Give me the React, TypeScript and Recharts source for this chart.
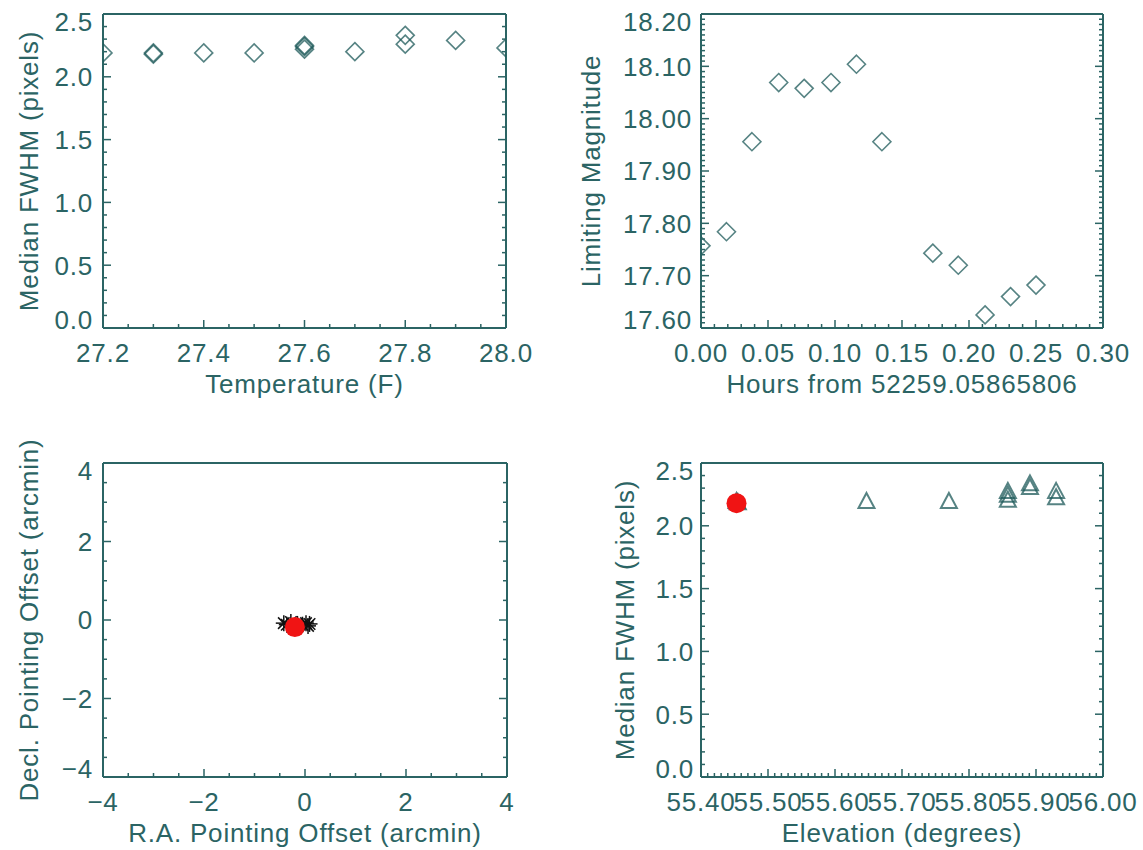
import { ScatterChart, Scatter, XAxis, YAxis } from 'recharts';

const INK = '#2b6464';
const MARK = '#1d5a5a';
const FONT = '"Liberation Sans", Arial, sans-serif';

// panel 1: median FWHM vs temperature
const tempF = [27.2, 27.3, 27.3, 27.4, 27.5, 27.6, 27.6, 27.6, 27.7, 27.8, 27.8, 27.9, 28.0];
const fwhmByTemp = [2.19, 2.18, 2.19, 2.19, 2.19, 2.22, 2.24, 2.25, 2.2, 2.33, 2.26, 2.29, 2.23];
const tempMajor = [27.2, 27.4, 27.6, 27.8, 28.0];
const fwhmMajor = [0, 0.5, 1.0, 1.5, 2.0, 2.5];

// panel 2: limiting magnitude vs time
const hoursFrom = [0.0, 0.019, 0.038, 0.058, 0.077, 0.097, 0.116, 0.135, 0.173, 0.192, 0.212, 0.231, 0.25];
const limitingMag = [17.757, 17.784, 17.956, 18.069, 18.058, 18.069, 18.104, 17.956, 17.743, 17.72, 17.625, 17.66, 17.682];
const hoursMajor = [0, 0.05, 0.1, 0.15, 0.2, 0.25, 0.3];
const magMajor = [17.6, 17.7, 17.8, 17.9, 18.0, 18.1, 18.2];

// panel 3: pointing offsets
const raOffset = [-0.42, -0.36, -0.28, -0.15, -0.05, 0.02, 0.09, 0.06];
const decOffset = [-0.08, -0.12, -0.05, -0.1, -0.12, -0.08, -0.1, -0.15];
const raMean = [-0.2];
const decMean = [-0.18];
const offsetMajor = [-4, -2, 0, 2, 4];

// panel 4: median FWHM vs elevation
const elevation = [55.453, 55.455, 55.647, 55.77, 55.858, 55.858, 55.858, 55.891, 55.891, 55.93, 55.93];
const fwhmByElev = [2.19, 2.18, 2.19, 2.19, 2.2, 2.24, 2.27, 2.3, 2.33, 2.22, 2.27];
const elevRed = [55.453];
const fwhmRed = [2.18];
const elevMajor = [55.4, 55.5, 55.6, 55.7, 55.8, 55.9, 56.0];

const withMinor = (majors: number[], n: number) => {
  const out: number[] = [];
  for (let i = 0; i < majors.length - 1; i++) {
    const step = (majors[i + 1] - majors[i]) / n;
    for (let k = 0; k < n; k++) out.push(+(majors[i] + k * step).toFixed(6));
  }
  out.push(majors[majors.length - 1]);
  return out;
};

const pairs = (xs: number[], ys: number[]) => xs.map((x, i) => ({ x, y: ys[i] }));

const fmt = (v: number, d: number) => v.toFixed(d).replace('-', '\u2212');

type Side = 'bottom' | 'top' | 'left' | 'right';

const makeTick = (side: Side, majors: number[], digits: number, gap = 10) => (props: any) => {
  const { x, y, payload } = props;
  const v = payload.value;
  const major = majors.some((m) => Math.abs(m - v) < 1e-6);
  const len = major ? 8 : 4;
  const lo = majors[0];
  const hi = majors[majors.length - 1];
  if (side === 'bottom') {
    return (
      <g>
        <line x1={x} y1={y} x2={x} y2={y - len} stroke={INK} strokeWidth={1.5} />
        {major && (
          <text x={x} y={y + 34} textAnchor="middle" fill={INK} fontSize={26}>
            {fmt(v, digits)}
          </text>
        )}
      </g>
    );
  }
  if (side === 'top') {
    return <line x1={x} y1={y} x2={x} y2={y + len} stroke={INK} strokeWidth={1.5} />;
  }
  if (side === 'right') {
    return <line x1={x} y1={y} x2={x - len} y2={y} stroke={INK} strokeWidth={1.5} />;
  }
  let ty = y;
  if (Math.abs(v - hi) < 1e-6) ty = y + 8;
  if (Math.abs(v - lo) < 1e-6) ty = y - 8;
  return (
    <g>
      <line x1={x} y1={y} x2={x + len} y2={y} stroke={INK} strokeWidth={1.5} />
      {major && (
        <text x={x - gap} y={ty + 9.3} textAnchor="end" fill={INK} fontSize={26}>
          {fmt(v, digits)}
        </text>
      )}
    </g>
  );
};

const Diamond = (props: any) => {
  const { cx, cy } = props;
  const r = 9;
  return (
    <path
      d={`M${cx},${cy - r}L${cx + r},${cy}L${cx},${cy + r}L${cx - r},${cy}Z`}
      fill="none"
      stroke={MARK}
      strokeOpacity={0.75}
      strokeWidth={1.6}
    />
  );
};

const Triangle = (props: any) => {
  const { cx, cy } = props;
  return (
    <path
      d={`M${cx},${cy - 9}L${cx + 8},${cy + 6}L${cx - 8},${cy + 6}Z`}
      fill="none"
      stroke={MARK}
      strokeOpacity={0.75}
      strokeWidth={2}
    />
  );
};

const Asterisk = (props: any) => {
  const { cx, cy } = props;
  const r = 8;
  const d = r * 0.72;
  return (
    <g stroke="#111" strokeWidth={1.5}>
      <line x1={cx - r} y1={cy} x2={cx + r} y2={cy} />
      <line x1={cx} y1={cy - r} x2={cx} y2={cy + r} />
      <line x1={cx - d} y1={cy - d} x2={cx + d} y2={cy + d} />
      <line x1={cx - d} y1={cy + d} x2={cx + d} y2={cy - d} />
    </g>
  );
};

const RedDot = (props: any) => <circle cx={props.cx} cy={props.cy} r={10} fill="#f01414" />;

type PanelProps = {
  left: number;
  top: number;
  width: number;
  marginTop: number;
  marginRight: number;
  yWidth: number;
  xHeight: number;
  xMajor: number[];
  xMinor: number;
  xDigits: number;
  yMajor: number[];
  yMinor: number;
  yDigits: number;
  yGap: number;
  xTitle: string;
  yTitle: string;
  yTitleX: number;
  children: any;
};

// top and right axes are 1px thick so that their frame lines and inner ticks get drawn
const Panel = (p: PanelProps) => {
  const xTicks = withMinor(p.xMajor, p.xMinor);
  const yTicks = withMinor(p.yMajor, p.yMinor);
  const xDomain = [p.xMajor[0], p.xMajor[p.xMajor.length - 1]];
  const yDomain = [p.yMajor[0], p.yMajor[p.yMajor.length - 1]];
  const line = { stroke: INK, strokeWidth: 2 };
  return (
    <div style={{ position: 'absolute', left: p.left, top: p.top }}>
      <ScatterChart
        width={p.width}
        height={420}
        margin={{ top: p.marginTop - 1, right: p.marginRight - 1, bottom: 0, left: 0 }}
      >
        <XAxis
          type="number"
          dataKey="x"
          domain={xDomain}
          ticks={xTicks}
          interval={0}
          allowDataOverflow
          height={p.xHeight}
          tickSize={0}
          tickMargin={0}
          tickLine={false}
          axisLine={line}
          tick={makeTick('bottom', p.xMajor, p.xDigits)}
          label={{ value: p.xTitle, position: 'insideTop', offset: 47, fill: INK, fontSize: 26 }}
        />
        <XAxis
          xAxisId="top"
          orientation="top"
          type="number"
          domain={xDomain}
          ticks={xTicks}
          interval={0}
          allowDataOverflow
          height={1}
          tickSize={0}
          tickMargin={0}
          tickLine={false}
          axisLine={line}
          tick={makeTick('top', p.xMajor, p.xDigits)}
        />
        <YAxis
          type="number"
          dataKey="y"
          domain={yDomain}
          ticks={yTicks}
          interval={0}
          allowDataOverflow
          width={p.yWidth}
          tickSize={0}
          tickMargin={0}
          tickLine={false}
          axisLine={line}
          tick={makeTick('left', p.yMajor, p.yDigits, p.yGap)}
          label={{
            value: p.yTitle,
            angle: -90,
            position: 'insideLeft',
            offset: p.yTitleX,
            fill: INK,
            fontSize: 26,
            style: { textAnchor: 'middle' },
          }}
        />
        <YAxis
          yAxisId="right"
          orientation="right"
          type="number"
          domain={yDomain}
          ticks={yTicks}
          interval={0}
          allowDataOverflow
          width={1}
          tickSize={0}
          tickMargin={0}
          tickLine={false}
          axisLine={line}
          tick={makeTick('right', p.yMajor, p.yDigits)}
        />
        {p.children}
      </ScatterChart>
    </div>
  );
};

export default function App() {
  return (
    <div
      style={{
        position: 'absolute',
        left: 0,
        top: 0,
        width: 1143,
        height: 850,
        background: '#fff',
        fontFamily: FONT,
        letterSpacing: 0.8,
      }}
    >
      <Panel
        left={0}
        top={0}
        width={560}
        marginTop={14}
        marginRight={54}
        yWidth={103}
        xHeight={92}
        xMajor={tempMajor}
        xMinor={4}
        xDigits={1}
        yMajor={fwhmMajor}
        yMinor={5}
        yDigits={1}
        yGap={10}
        xTitle="Temperature (F)"
        yTitle="Median FWHM (pixels)"
        yTitleX={29}
      >
        <Scatter data={pairs(tempF, fwhmByTemp)} shape={Diamond} isAnimationActive={false} />
      </Panel>
      <Panel
        left={560}
        top={0}
        width={583}
        marginTop={14}
        marginRight={40}
        yWidth={141}
        xHeight={92}
        xMajor={hoursMajor}
        xMinor={5}
        xDigits={2}
        yMajor={magMajor}
        yMinor={10}
        yDigits={2}
        yGap={9}
        xTitle="Hours from 52259.05865806"
        yTitle="Limiting Magnitude"
        yTitleX={31}
      >
        <Scatter data={pairs(hoursFrom, limitingMag)} shape={Diamond} isAnimationActive={false} />
      </Panel>
      <Panel
        left={0}
        top={430}
        width={560}
        marginTop={33}
        marginRight={53}
        yWidth={103}
        xHeight={73}
        xMajor={offsetMajor}
        xMinor={4}
        xDigits={0}
        yMajor={offsetMajor}
        yMinor={4}
        yDigits={0}
        yGap={10}
        xTitle="R.A. Pointing Offset (arcmin)"
        yTitle="Decl. Pointing Offset (arcmin)"
        yTitleX={29}
      >
        <Scatter data={pairs(raOffset, decOffset)} shape={Asterisk} isAnimationActive={false} />
        <Scatter data={pairs(raMean, decMean)} shape={RedDot} isAnimationActive={false} />
      </Panel>
      <Panel
        left={560}
        top={430}
        width={583}
        marginTop={33}
        marginRight={40}
        yWidth={141}
        xHeight={73}
        xMajor={elevMajor}
        xMinor={10}
        xDigits={2}
        yMajor={fwhmMajor}
        yMinor={5}
        yDigits={1}
        yGap={7}
        xTitle="Elevation (degrees)"
        yTitle="Median FWHM (pixels)"
        yTitleX={65}
      >
        <Scatter data={pairs(elevation, fwhmByElev)} shape={Triangle} isAnimationActive={false} />
        <Scatter data={pairs(elevRed, fwhmRed)} shape={RedDot} isAnimationActive={false} />
      </Panel>
    </div>
  );
}
